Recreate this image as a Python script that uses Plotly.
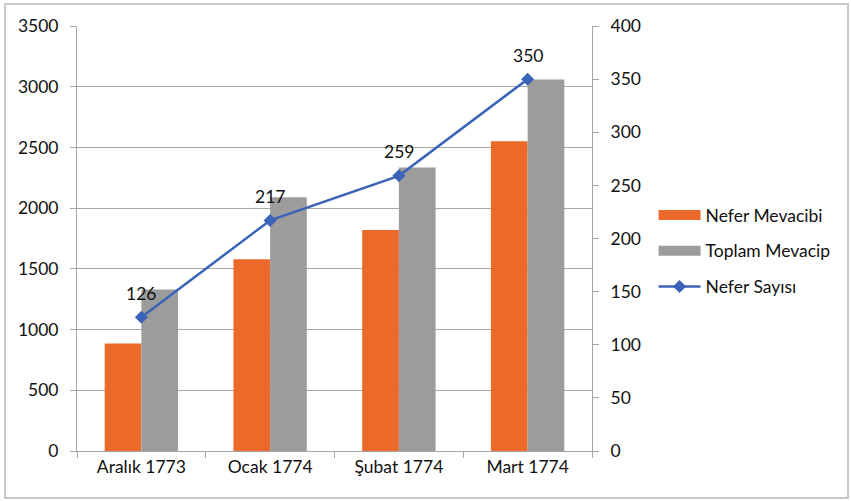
import plotly.graph_objects as go

categories = ["Aralık 1773", "Ocak 1774", "Şubat 1774", "Mart 1774"]
nefer_mevacibi = [885, 1580, 1820, 2550]
toplam_mevacip = [1330, 2090, 2335, 3060]
nefer_sayisi = [126, 217, 259, 350]

FONT = "Lato"
FS = 17.5
GRID = "#a6a6a6"
ORANGE = "#EB6A2A"
GRAY = "#9C9C9C"
BLUE = "#3B63B8"

fig = go.Figure()
fig.add_trace(go.Bar(x=categories, y=nefer_mevacibi, name="Nefer Mevacibi",
                     marker=dict(color=ORANGE, line=dict(width=0)),
                     showlegend=False))
fig.add_trace(go.Bar(x=categories, y=toplam_mevacip, name="Toplam Mevacip",
                     marker=dict(color=GRAY, line=dict(width=0)),
                     showlegend=False))
fig.add_trace(go.Scatter(x=categories, y=nefer_sayisi, name="Nefer Sayısı",
                         mode="lines+markers", yaxis="y2",
                         line=dict(color=BLUE, width=2.5),
                         marker=dict(symbol="diamond", size=10, color=BLUE),
                         showlegend=False))

# legend entries (wide rectangular swatches like the original)
fig.add_trace(go.Scatter(x=[None], y=[None], mode="lines", name="Nefer Mevacibi",
                         line=dict(color=ORANGE, width=12), legendgroup="a"))
fig.add_trace(go.Scatter(x=[None], y=[None], mode="lines", name="Toplam Mevacip",
                         line=dict(color=GRAY, width=12), legendgroup="b"))
fig.add_trace(go.Scatter(x=[None], y=[None], mode="lines+markers", name="Nefer Sayısı",
                         line=dict(color=BLUE, width=2.5),
                         marker=dict(symbol="diamond", size=10, color=BLUE),
                         legendgroup="c"))

for c, v in zip(categories, nefer_sayisi):
    fig.add_annotation(x=c, y=v, xref="x", yref="y2", text=str(v),
                       showarrow=False, yshift=24,
                       font=dict(family=FONT, size=FS, color="#111111"))

fig.update_layout(
    width=851, height=501,
    margin=dict(l=77, r=259, t=26, b=50, autoexpand=False),
    paper_bgcolor="white", plot_bgcolor="white",
    font=dict(family=FONT, size=FS, color="#111111"),
    barmode="group", bargap=0.43, bargroupgap=0,
    showlegend=True,
    legend=dict(xref="container", yref="container", x=0.768, y=0.499,
                xanchor="left", yanchor="middle",
                traceorder="grouped", tracegroupgap=10, itemwidth=42,
                font=dict(family=FONT, size=FS, color="#111111"),
                bgcolor="rgba(0,0,0,0)"),
    xaxis=dict(showline=True, linecolor=GRID, linewidth=1, automargin=False,
               ticks="outside", tickson="boundaries", ticklen=6, tickcolor=GRID,
               showgrid=False, tickfont=dict(family=FONT, size=FS)),
    yaxis=dict(range=[0, 3500], dtick=500, showline=True, linecolor=GRID,
               automargin=False,
               ticks="outside", ticklen=6, tickcolor=GRID,
               showgrid=True, gridcolor=GRID, gridwidth=1, zeroline=False,
               tickfont=dict(family=FONT, size=FS), ticklabelstandoff=8),
    yaxis2=dict(range=[0, 400], dtick=50, overlaying="y", side="right",
                automargin=False,
                showline=True, linecolor=GRID, ticks="outside", ticklen=6,
                tickcolor=GRID, showgrid=False, zeroline=False,
                tickfont=dict(family=FONT, size=FS), ticklabelstandoff=8),
)

fig.add_shape(type="rect", xref="paper", yref="paper",
              x0=(5 - 77) / 515, x1=(848 - 77) / 515,
              y0=(451 - 498) / 425, y1=(451 - 4) / 425,
              line=dict(color="#c8c8c8", width=2), fillcolor="rgba(0,0,0,0)",
              layer="below")

fig.write_html("out.html", config={"displayModeBar": False},
               post_script="document.body.style.margin='0';")
